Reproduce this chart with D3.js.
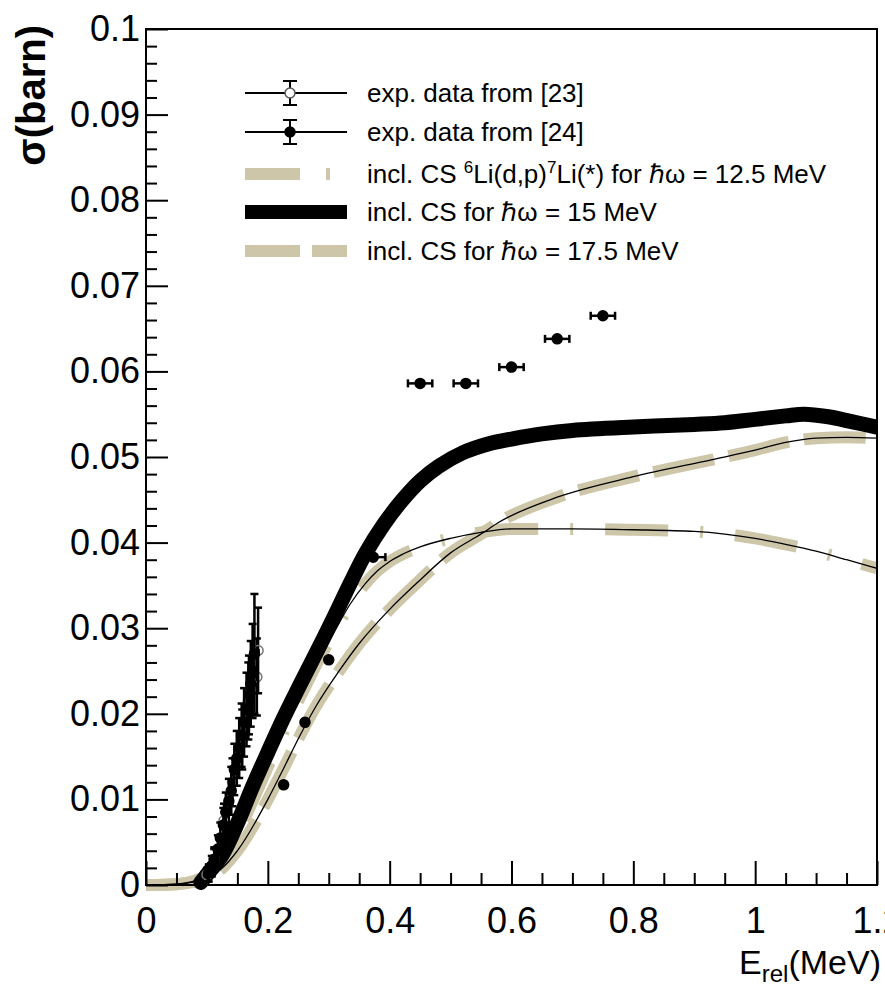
<!DOCTYPE html>
<html>
<head>
<meta charset="utf-8">
<script src="https://cdn.jsdelivr.net/npm/d3@7"></script>
<style>
  body { margin: 0; background: #fff; }
  text { font-family: "Liberation Sans", Arial, sans-serif; fill: #000; }
</style>
</head>
<body>
<svg id="chart"></svg>
<script>
// theory curves: inclusive cross section for three hbar-omega values
const energy15 = [0.09, 0.1, 0.125, 0.15, 0.175, 0.2, 0.225, 0.25, 0.28, 0.31, 0.335, 0.36, 0.39, 0.42, 0.45, 0.48, 0.52, 0.56, 0.6, 0.65, 0.7, 0.8, 0.9, 0.95, 1.0, 1.05, 1.08, 1.12, 1.16, 1.2];
const sigma15  = [0.0003, 0.0012, 0.0035, 0.0072, 0.0115, 0.0155, 0.0194, 0.023, 0.0272, 0.0315, 0.0352, 0.0387, 0.0421, 0.0449, 0.0472, 0.0489, 0.0505, 0.0515, 0.0521, 0.0527, 0.0531, 0.0535, 0.0538, 0.054, 0.0544, 0.0548, 0.055, 0.0547, 0.0541, 0.0535];

const energy125 = [0, 0.05, 0.1, 0.125, 0.15, 0.175, 0.2, 0.225, 0.25, 0.28, 0.31, 0.335, 0.36, 0.38, 0.4, 0.42, 0.45, 0.5, 0.55, 0.6, 0.7, 0.8, 0.9, 0.95, 1.0, 1.05, 1.1, 1.15, 1.2];
const sigma125  = [0, 0.0001, 0.0011, 0.003, 0.006, 0.0098, 0.0138, 0.0178, 0.0215, 0.0258, 0.0297, 0.0328, 0.0352, 0.0367, 0.0378, 0.0386, 0.0395, 0.0405, 0.0412, 0.0416, 0.0416, 0.0415, 0.0413, 0.041, 0.0405, 0.0398, 0.039, 0.038, 0.037];

const energy175 = [0, 0.05, 0.1, 0.127, 0.15, 0.2, 0.225, 0.253, 0.28, 0.315, 0.351, 0.4, 0.445, 0.5, 0.55, 0.58, 0.675, 0.8, 0.93, 1.0, 1.05, 1.1, 1.15, 1.2];
const sigma175  = [0, 0.0001, 0.0008, 0.0021, 0.004, 0.01, 0.0135, 0.0175, 0.021, 0.0248, 0.0283, 0.0322, 0.0353, 0.0388, 0.041, 0.0424, 0.0453, 0.0477, 0.0497, 0.0508, 0.0517, 0.0522, 0.0523, 0.0522];

// exp. data from [24] (filled markers)
const e24   = [0.103, 0.108, 0.112, 0.118, 0.122, 0.127, 0.131, 0.136, 0.14, 0.145, 0.149, 0.153, 0.157, 0.161, 0.165, 0.169, 0.172, 0.175, 0.178, 0.226, 0.261, 0.3, 0.373, 0.45, 0.525, 0.6, 0.675, 0.75];
const s24   = [0.0014, 0.0022, 0.003, 0.0042, 0.0055, 0.007, 0.0085, 0.0098, 0.011, 0.0135, 0.0148, 0.016, 0.0175, 0.019, 0.0205, 0.0222, 0.0235, 0.025, 0.027, 0.0117, 0.019, 0.0263, 0.0383, 0.0586, 0.0586, 0.0605, 0.0638, 0.0665];
const ex24  = [0.003, 0.003, 0.003, 0.003, 0.003, 0.003, 0.003, 0.003, 0.003, 0.003, 0.003, 0.003, 0.003, 0.003, 0.003, 0.003, 0.003, 0.003, 0.003, 0.004, 0.004, 0.004, 0.02, 0.02, 0.02, 0.02, 0.02, 0.02];
const es24  = [0.001, 0.0012, 0.0014, 0.0016, 0.0018, 0.002, 0.0023, 0.0026, 0.0028, 0.003, 0.0032, 0.0035, 0.0037, 0.004, 0.0043, 0.0046, 0.005, 0.0055, 0.007, 0.0003, 0.0003, 0.0003, 0.0003, 0.0003, 0.0003, 0.0003, 0.0003, 0.0003];

// exp. data from [23] (open markers)
const e23  = [0.1, 0.112, 0.128, 0.142, 0.158, 0.168, 0.182, 0.184];
const s23  = [0.0012, 0.003, 0.0075, 0.012, 0.017, 0.0215, 0.0243, 0.0274];
const es23 = [0.0008, 0.0012, 0.002, 0.0028, 0.0035, 0.0045, 0.0045, 0.005];

const xMajor = [0, 0.2, 0.4, 0.6, 0.8, 1.0, 1.2];
const yMajor = [0, 0.01, 0.02, 0.03, 0.04, 0.05, 0.06, 0.07, 0.08, 0.09, 0.1];

const width = 885;
const height = 987;
const margin = { top: 29, right: 8, bottom: 102, left: 146 };
const beige = "#cdc6a8";

const svg = d3.select("#chart")
  .attr("width", width)
  .attr("height", height);

const x = d3.scaleLinear().domain([0, 1.2]).range([margin.left, width - margin.right]);
const y = d3.scaleLinear().domain([0, 0.1]).range([height - margin.bottom, margin.top]);

// the bands are allowed to spill a little below the x axis, as in the original
svg.append("clipPath").attr("id", "plot")
  .append("rect")
  .attr("x", x(0)).attr("y", y(0.1))
  .attr("width", x(1.2) - x(0)).attr("height", y(0) - y(0.1) + 9);

const zip = (xs, ys) => xs.map((v, i) => [v, ys[i]]);
const line = d3.line().x(d => x(d[0])).y(d => y(d[1])).curve(d3.curveMonotoneX);
const smooth = d3.line().x(d => x(d[0])).y(d => y(d[1])).curve(d3.curveCatmullRom.alpha(0.5));

const curves = svg.append("g").attr("clip-path", "url(#plot)");

// beige bands
curves.append("path").attr("d", line(zip(energy125, sigma125)))
  .attr("fill", "none").attr("stroke", beige).attr("stroke-width", 12)
  .attr("stroke-dasharray", "63,32,3,32");
curves.append("path").attr("d", line(zip(energy175, sigma175)))
  .attr("fill", "none").attr("stroke", beige).attr("stroke-width", 12)
  .attr("stroke-dasharray", "62,15");
// thin black lines drawn on top of the beige bands
[zip(energy125, sigma125), zip(energy175, sigma175)].forEach(pts => {
  curves.append("path").attr("d", line(pts))
    .attr("fill", "none").attr("stroke", "#000").attr("stroke-width", 1.3);
});
// thick black curve
curves.append("path").attr("d", smooth(zip(energy15, sigma15)))
  .attr("fill", "none").attr("stroke", "#000").attr("stroke-width", 15)
  .attr("stroke-linecap", "round").attr("stroke-linejoin", "round");

// data points with error bars
function drawPoints(xs, ys, exs, eys, filled) {
  const g = svg.append("g");
  xs.forEach((v, i) => {
    const cx = x(v), cy = y(ys[i]);
    const ex = exs ? exs[i] : 0.003;
    g.append("line").attr("x1", x(v - ex)).attr("x2", x(v + ex)).attr("y1", cy).attr("y2", cy)
      .attr("stroke", "#000").attr("stroke-width", 2.5);
    [v - ex, v + ex].forEach(e => {
      if (ex >= 0.01) g.append("line").attr("x1", x(e)).attr("x2", x(e)).attr("y1", cy - 4).attr("y2", cy + 4)
        .attr("stroke", "#000").attr("stroke-width", 2.5);
    });
    if (eys[i] > 0.0005) {
      g.append("line").attr("x1", cx).attr("x2", cx).attr("y1", y(ys[i] - eys[i])).attr("y2", y(ys[i] + eys[i]))
        .attr("stroke", "#000").attr("stroke-width", 2.5);
      [ys[i] - eys[i], ys[i] + eys[i]].forEach(e => {
        g.append("line").attr("x1", cx - 4).attr("x2", cx + 4).attr("y1", y(e)).attr("y2", y(e))
          .attr("stroke", "#000").attr("stroke-width", 2.5);
      });
    }
    g.append("circle").attr("cx", cx).attr("cy", cy).attr("r", 5)
      .attr("fill", filled ? "#000" : "none")
      .attr("stroke", filled ? "#000" : "#777").attr("stroke-width", 1.5);
  });
}
drawPoints(e23, s23, null, es23, false);
drawPoints(e24, s24, ex24, es24, true);

// axes
const fmt = d => d === 0 ? "0" : String(+d.toFixed(2));

const xMinor = d3.range(0, 1.2001, 0.05).filter(v => Math.abs(Math.round(v / 0.2) * 0.2 - v) > 1e-6);
const yMinor = d3.range(0, 0.1001, 0.002).filter(v => Math.abs(Math.round(v / 0.01) * 0.01 - v) > 1e-6);

svg.append("g")
  .attr("transform", `translate(0,${y(0)})`)
  .call(d3.axisBottom(x).tickValues(xMajor).tickFormat(fmt).tickSizeInner(-24).tickSizeOuter(0).tickPadding(22));
svg.append("g")
  .attr("transform", `translate(0,${y(0)})`)
  .call(d3.axisBottom(x).tickValues(xMinor).tickFormat("").tickSizeInner(-12).tickSizeOuter(0));

svg.append("g")
  .attr("transform", `translate(${x(0)},0)`)
  .call(d3.axisLeft(y).tickValues(yMajor).tickFormat(fmt).tickSizeInner(-22).tickSizeOuter(0).tickPadding(6));
svg.append("g")
  .attr("transform", `translate(${x(0)},0)`)
  .call(d3.axisLeft(y).tickValues(yMinor).tickFormat("").tickSizeInner(-11).tickSizeOuter(0));

svg.selectAll(".domain").remove();
svg.selectAll(".tick line").attr("stroke", "#000").attr("stroke-width", 2);
svg.selectAll(".tick text")
  .attr("font-family", "Liberation Sans, Arial, sans-serif")
  .attr("font-size", 36).attr("fill", "#000");

// frame
svg.append("rect")
  .attr("x", x(0)).attr("y", y(0.1))
  .attr("width", x(1.2) - x(0)).attr("height", y(0) - y(0.1))
  .attr("fill", "none").attr("stroke", "#000").attr("stroke-width", 2);

// axis titles
const xt = svg.append("text")
  .attr("x", 881).attr("y", 974)
  .attr("text-anchor", "end")
  .attr("font-size", 34);
xt.append("tspan").text("E");
xt.append("tspan").attr("font-size", 24).attr("dy", 8).text("rel");
xt.append("tspan").attr("dy", -8).text("(MeV)");

svg.append("text")
  .attr("transform", "translate(45,25) rotate(-90)")
  .attr("text-anchor", "end")
  .attr("font-size", 40)
  .attr("font-weight", "bold")
  .text("σ(barn)");

// legend
const legend = svg.append("g");
const lx0 = 245, lx1 = 347, tx = 367;
const rows = [93, 132, 174, 212, 251];

[0, 1].forEach(i => {
  const ly = rows[i];
  legend.append("line").attr("x1", lx0).attr("x2", lx1).attr("y1", ly).attr("y2", ly)
    .attr("stroke", "#000").attr("stroke-width", 2);
  legend.append("line").attr("x1", 290).attr("x2", 290).attr("y1", ly - 12).attr("y2", ly + 12)
    .attr("stroke", "#000").attr("stroke-width", 2);
  [ly - 12, ly + 12].forEach(e => legend.append("line").attr("x1", 283).attr("x2", 297).attr("y1", e).attr("y2", e)
    .attr("stroke", "#000").attr("stroke-width", 2));
  legend.append("circle").attr("cx", 290).attr("cy", ly).attr("r", 5)
    .attr("fill", i === 0 ? "#fff" : "#000").attr("stroke", i === 0 ? "#555" : "#000").attr("stroke-width", 1.5);
});

legend.append("rect").attr("x", 245).attr("y", rows[2] - 6).attr("width", 55).attr("height", 12).attr("fill", beige);
legend.append("rect").attr("x", 326).attr("y", rows[2] - 6).attr("width", 4).attr("height", 12).attr("fill", beige);
legend.append("rect").attr("x", 245).attr("y", rows[3] - 7).attr("width", 102).attr("height", 14).attr("fill", "#000");
legend.append("rect").attr("x", 245).attr("y", rows[4] - 6).attr("width", 55).attr("height", 12).attr("fill", beige);
legend.append("rect").attr("x", 312).attr("y", rows[4] - 6).attr("width", 35).attr("height", 12).attr("fill", beige);

const addText = (i) => legend.append("text").attr("x", tx).attr("y", rows[i] + 9).attr("font-size", 26);
addText(0).text("exp. data from [23]");
addText(1).text("exp. data from [24]");
const t3 = addText(2);
t3.append("tspan").text("incl. CS ");
t3.append("tspan").attr("font-size", 17).attr("dy", -10).text("6");
t3.append("tspan").attr("dy", 10).text("Li(d,p)");
t3.append("tspan").attr("font-size", 17).attr("dy", -10).text("7");
t3.append("tspan").attr("dy", 10).text("Li(*) for ℏω = 12.5 MeV");
addText(3).text("incl. CS for ℏω = 15 MeV");
addText(4).text("incl. CS for ℏω = 17.5 MeV");
</script>
</body>
</html>
